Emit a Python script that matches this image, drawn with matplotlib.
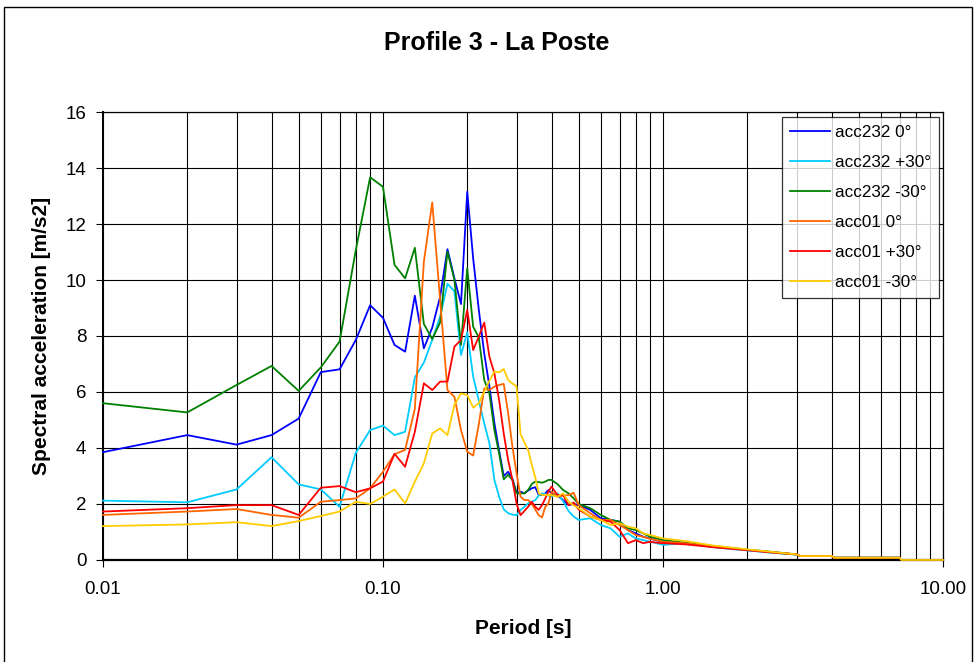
import matplotlib
matplotlib.use("Agg")
import matplotlib.pyplot as plt
from matplotlib.ticker import LogLocator, NullFormatter
from matplotlib.patches import Rectangle

plt.rcParams['font.family'] = ['Liberation Sans', 'DejaVu Sans']

# periods [s]
period = [0.01, 0.02, 0.03, 0.04, 0.05, 0.06, 0.07, 0.08, 0.09, 0.10,
          0.11, 0.12, 0.13, 0.14, 0.15, 0.16, 0.17, 0.18, 0.19, 0.20,
          0.21, 0.22, 0.23, 0.24, 0.25, 0.26, 0.27, 0.28, 0.29, 0.30,
          0.31, 0.32, 0.33, 0.34, 0.35, 0.36, 0.37, 0.38, 0.39, 0.40,
          0.42, 0.44, 0.46, 0.48, 0.50, 0.55, 0.60, 0.65, 0.70, 0.75,
          0.80, 0.85, 0.90, 0.95, 1.00,
          1.2, 1.5, 2.0, 2.5, 3.0, 3.1, 4.0, 4.1, 7.0]
period_end = [7.1, 10.0]   # only acc01 -30 goes on to 10 s

acc232_0 = [3.85, 4.46, 4.12, 4.46, 5.05, 6.71, 6.81, 7.86, 9.10, 8.65,
            7.68, 7.44, 9.44, 7.56, 8.30, 9.40, 11.10, 10.06, 9.14, 13.15,
            10.77, 8.93, 7.38, 6.20, 4.90, 3.90, 3.00, 3.15, 2.90, 2.40,
            2.44, 2.38, 2.48, 2.56, 2.60, 2.32, 2.32, 2.38, 2.50, 2.38,
            2.30, 2.14, 1.96, 2.00, 1.96, 1.79, 1.49, 1.43, 1.37, 1.07,
            0.95, 0.83, 0.77, 0.70, 0.65,
            0.60, 0.48, 0.36, 0.27, 0.20, 0.14, 0.14, 0.08, 0.08]
acc232_p30 = [2.12, 2.06, 2.52, 3.67, 2.70, 2.52, 1.90, 3.83, 4.64, 4.80,
              4.46, 4.58, 6.52, 7.05, 7.86, 8.69, 9.86, 9.60, 7.32, 8.13,
              6.55, 5.70, 4.88, 4.17, 2.86, 2.26, 1.81, 1.67, 1.62, 1.60,
              1.79, 1.90, 2.02, 2.08, 2.14, 2.30, 2.38, 2.35, 2.30, 2.26,
              2.38, 2.10, 1.75, 1.55, 1.43, 1.49, 1.25, 1.13, 0.83, 0.95,
              0.77, 0.71, 0.65, 0.60, 0.54,
              0.60, 0.46, 0.34, 0.25, 0.19, 0.14, 0.14, 0.08, 0.08]
acc232_m30 = [5.60, 5.27, 6.25, 6.93, 6.04, 6.88, 7.80, 11.07, 13.67, 13.33,
              10.54, 10.06, 11.15, 8.43, 7.89, 8.48, 11.01, 10.00, 7.68, 10.42,
              8.33, 7.95, 6.43, 5.95, 4.64, 3.80, 2.88, 3.04, 2.86, 2.38,
              2.38, 2.38, 2.50, 2.71, 2.80, 2.78, 2.76, 2.80, 2.86, 2.86,
              2.71, 2.50, 2.38, 2.20, 2.00, 1.85, 1.61, 1.43, 1.37, 1.13,
              1.07, 0.95, 0.83, 0.77, 0.71,
              0.62, 0.50, 0.37, 0.28, 0.20, 0.14, 0.14, 0.08, 0.08]
acc01_0 = [1.61, 1.73, 1.82, 1.61, 1.51, 2.08, 2.14, 2.20, 2.56, 3.15,
           3.78, 3.93, 5.40, 10.65, 12.77, 9.29, 6.07, 5.83, 4.64, 3.87,
           3.73, 4.85, 6.13, 6.07, 6.19, 6.25, 6.29, 5.24, 4.05, 3.10,
           2.26, 2.14, 2.14, 2.02, 1.80, 1.60, 1.52, 1.90, 2.02, 2.44,
           2.26, 2.30, 2.32, 2.40, 1.96, 1.67, 1.43, 1.43, 1.25, 1.07,
           0.89, 0.83, 0.75, 0.71, 0.65,
           0.60, 0.48, 0.36, 0.27, 0.20, 0.14, 0.14, 0.08, 0.08]
acc01_p30 = [1.73, 1.85, 1.96, 1.96, 1.61, 2.58, 2.64, 2.42, 2.56, 2.80,
             3.79, 3.33, 4.58, 6.31, 6.07, 6.37, 6.37, 7.62, 7.86, 8.93,
             7.50, 7.98, 8.48, 7.26, 6.67, 5.71, 4.52, 3.57, 2.86, 2.02,
             1.60, 1.75, 1.90, 2.08, 1.90, 1.79, 1.96, 2.20, 2.45, 2.62,
             2.32, 2.32, 1.96, 2.05, 1.80, 1.55, 1.43, 1.37, 1.07, 0.60,
             0.71, 0.60, 0.65, 0.62, 0.60,
             0.56, 0.46, 0.35, 0.26, 0.20, 0.14, 0.14, 0.08, 0.08]
acc01_m30 = [1.21, 1.27, 1.35, 1.21, 1.39, 1.57, 1.73, 2.08, 2.00, 2.26,
             2.52, 2.02, 2.80, 3.45, 4.52, 4.70, 4.46, 5.54, 5.95, 5.89,
             5.44, 5.60, 6.01, 6.40, 6.73, 6.70, 6.82, 6.43, 6.30, 6.21,
             4.50, 4.20, 3.93, 3.40, 2.95, 2.38, 2.32, 2.32, 2.32, 2.32,
             2.26, 2.38, 2.08, 1.95, 1.85, 1.55, 1.43, 1.25, 1.31, 1.19,
             1.13, 0.95, 0.89, 0.83, 0.77,
             0.68, 0.52, 0.38, 0.28, 0.20, 0.14, 0.14, 0.08, 0.08,
             0.0, 0.0]

labels = ['acc232 0°', 'acc232 +30°', 'acc232 -30°', 'acc01 0°', 'acc01 +30°', 'acc01 -30°']
colors = ['#0000FF', '#00CCFF', '#008000', '#FF6600', '#FF0000', '#FFCC00']
series = [acc232_0, acc232_p30, acc232_m30, acc01_0, acc01_p30, acc01_m30]

fig = plt.figure(figsize=(9.75, 6.62), dpi=100)
ax = fig.add_axes([0.1056, 0.1541, 0.8615, 0.6767])

for vals, lab, col in zip(series, labels, colors):
    ax.plot((period + period_end)[:len(vals)], vals, color=col, lw=1.3, label=lab,
            zorder=3, clip_on=False)

ax.set_xscale('log')
ax.set_xlim(0.01, 10)
ax.set_ylim(0, 16)
ax.set_xticks([0.01, 0.1, 1, 10])
ax.set_xticklabels(['0.01', '0.10', '1.00', '10.00'])
ax.xaxis.set_minor_locator(LogLocator(base=10, subs=[2, 3, 4, 5, 6, 7, 8, 9]))
ax.xaxis.set_minor_formatter(NullFormatter())
ax.set_yticks(range(0, 17, 2))
ax.tick_params(axis='both', which='major', labelsize=13.5, direction='out', length=5, width=0.8)
ax.tick_params(axis='x', which='minor', length=0)
ax.tick_params(axis='x', pad=10)
ax.tick_params(axis='y', pad=7)

ax.grid(True, which='both', axis='x', color='black', lw=0.8)
ax.grid(True, which='major', axis='y', color='black', lw=0.8)
ax.set_axisbelow(True)
for s in ax.spines.values():
    s.set_linewidth(0.9)
ax.spines['bottom'].set_linewidth(1.6)
ax.spines['left'].set_linewidth(1.4)

ax.set_xlabel('Period [s]', fontsize=15, fontweight='bold')
ax.xaxis.label.set_va('center')
ax.xaxis.set_label_coords(0.5, -0.152)
ax.set_ylabel('Spectral acceleration [m/s2]', fontsize=15, fontweight='bold')
ax.yaxis.label.set_va('center')
ax.yaxis.set_label_coords(-0.0726, 0.5)
fig.text(0.509, 0.935, 'Profile 3 - La Poste', fontsize=18, fontweight='bold', ha='center', va='center')

leg = ax.legend(loc='upper right', bbox_to_anchor=(0.9952, 0.9888), borderaxespad=0,
                fontsize=12.3, frameon=True, fancybox=False, edgecolor='black',
                handlelength=2.35, handletextpad=0.3, labelspacing=0.88, borderpad=0.45)
leg.get_frame().set_linewidth(0.9)

fig.patches.append(Rectangle((0.004, -0.01), 0.993, 0.999, transform=fig.transFigure,
                             fill=False, edgecolor='black', lw=1.0))

fig.savefig('out.png', dpi=100)
